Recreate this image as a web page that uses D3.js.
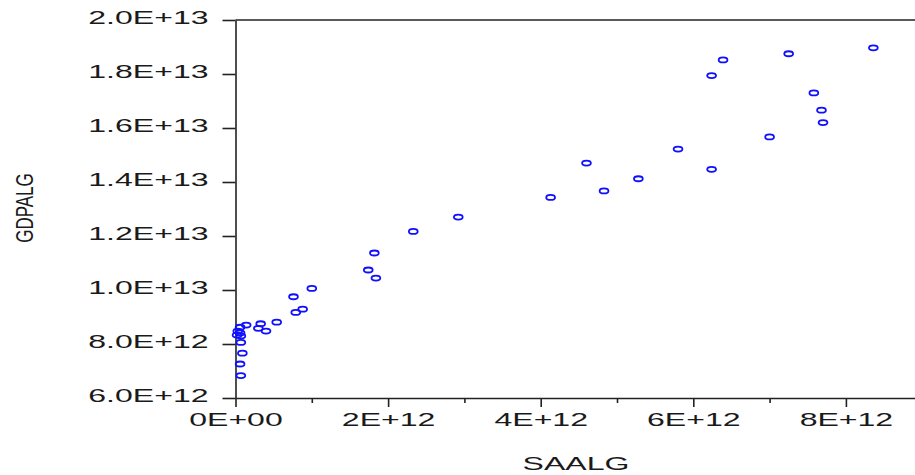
<!DOCTYPE html>
<html lang="en">
<head>
    <meta charset="utf-8">
    <title>GDPALG vs SAALG</title>
    <script type="text/javascript" src="https://d3js.org/d3.v7.min.js"></script>
    <style>
        body { margin: 0; background: white; }
        svg { display: block; }
        .tick text, .title { font-family: "Liberation Sans", Arial, sans-serif; fill: #1a1a1a; }
    </style>
</head>
<body>
    <div id="scatter"></div>
    <script type="text/javascript">
        // data
        const saalg = [8.36e12, 7.25e12, 6.39e12, 6.24e12, 7.58e12, 7.68e12, 7.70e12, 7.00e12,
                       5.80e12, 4.60e12, 6.24e12, 5.28e12, 4.83e12, 4.13e12, 2.92e12, 2.33e12,
                       1.82e12, 1.74e12, 1.84e12, 1.00e12, 0.76e12, 0.88e12, 0.79e12, 0.54e12,
                       0.33e12, 0.30e12, 0.40e12, 0.14e12, 0.06e12, 0.03e12, 0.06e12, 0.02e12,
                       0.07e12, 0.07e12, 0.09e12, 0.06e12, 0.07e12];
        const gdpalg = [18.97e12, 18.75e12, 18.52e12, 17.94e12, 17.30e12, 16.66e12, 16.20e12, 15.67e12,
                        15.22e12, 14.70e12, 14.47e12, 14.12e12, 13.67e12, 13.43e12, 12.70e12, 12.17e12,
                        11.37e12, 10.74e12, 10.44e12, 10.06e12, 9.75e12, 9.29e12, 9.17e12, 8.81e12,
                        8.75e12, 8.58e12, 8.48e12, 8.70e12, 8.62e12, 8.48e12, 8.41e12, 8.33e12,
                        8.30e12, 8.06e12, 7.66e12, 7.26e12, 6.83e12];

        const yTicks = [6e12, 8e12, 10e12, 12e12, 14e12, 16e12, 18e12, 20e12];
        const yTickLabels = ["6.0E+12", "8.0E+12", "1.0E+13", "1.2E+13", "1.4E+13", "1.6E+13", "1.8E+13", "2.0E+13"];
        const xTicks = [0, 2e12, 4e12, 6e12, 8e12];
        const xTickLabels = ["0E+00", "2E+12", "4E+12", "6E+12", "8E+12"];
        const xMinorTicks = [1e12, 3e12, 5e12, 7e12];

        const width = 915;
        const height = 475;
        const marginLeft = 235.5;
        const plotTop = 20;
        const plotBottom = 398;
        const stretch = 1.78; // text in the picture is drawn wide

        const svg = d3.select("#scatter")
            .append("svg")
            .attr("width", width)
            .attr("height", height);

        const x = d3.scaleLinear()
            .domain([0, 9e12])
            .range([marginLeft, marginLeft + 9 * 76.3]);

        const y = d3.scaleLinear()
            .domain([6e12, 20e12])
            .range([plotBottom, plotTop]);

        // top frame line
        svg.append("line")
            .attr("x1", marginLeft).attr("x2", width)
            .attr("y1", plotTop).attr("y2", plotTop)
            .attr("stroke", "#222").attr("stroke-width", 1.6);

        // y axis
        const yAxis = svg.append("g")
            .attr("transform", `translate(${marginLeft},0)`)
            .call(d3.axisLeft(y)
                .tickValues(yTicks)
                .tickFormat((d, i) => yTickLabels[i])
                .tickSize(13)
                .tickSizeOuter(0));
        yAxis.selectAll("path, line").attr("stroke", "#222").attr("stroke-width", 1.6);
        yAxis.selectAll("text")
            .attr("font-size", 18)
            .attr("x", -27 / stretch)
            .attr("dy", 3)
            .attr("transform", `scale(${stretch},1)`);

        // x axis, minor ticks first
        const xMinor = svg.append("g")
            .attr("transform", `translate(0,${plotBottom})`)
            .call(d3.axisBottom(x)
                .tickValues(xMinorTicks)
                .tickFormat("")
                .tickSize(5)
                .tickSizeOuter(0));
        xMinor.select(".domain").remove();
        xMinor.selectAll("line").attr("stroke", "#222").attr("stroke-width", 1.6);

        const xAxis = svg.append("g")
            .attr("transform", `translate(0,${plotBottom})`)
            .call(d3.axisBottom(x)
                .tickValues(xTicks)
                .tickFormat((d, i) => xTickLabels[i])
                .tickSize(9)
                .tickSizeOuter(0));
        xAxis.selectAll("path, line").attr("stroke", "#222").attr("stroke-width", 1.6);
        xAxis.selectAll("text")
            .attr("font-size", 18)
            .attr("y", 28)
            .attr("dy", 0)
            .attr("transform", `scale(${stretch},1)`);

        // points
        svg.append("g")
            .selectAll("ellipse")
            .data(saalg.map((d, i) => ({x: d, y: gdpalg[i]})))
            .enter()
            .append("ellipse")
                .attr("cx", d => x(d.x))
                .attr("cy", d => y(d.y))
                .attr("rx", 4.4)
                .attr("ry", 2.5)
                .attr("fill", "none")
                .attr("stroke", "#1010ff")
                .attr("stroke-width", 1.8);

        // axis titles
        svg.append("text")
            .attr("class", "title")
            .attr("font-size", 18)
            .attr("text-anchor", "middle")
            .attr("transform", `translate(576,470) scale(${stretch},1)`)
            .text("SAALG");

        svg.append("text")
            .attr("class", "title")
            .attr("font-size", 17)
            .attr("text-anchor", "middle")
            .attr("transform", `translate(33,208) scale(1.4,1) rotate(-90)`)
            .text("GDPALG");
    </script>
</body>
</html>
